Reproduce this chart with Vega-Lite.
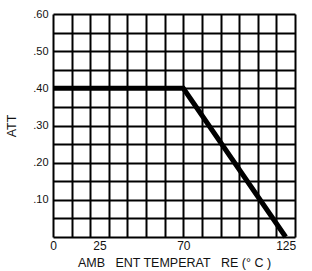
{
  "$schema": "https://vega.github.io/schema/vega-lite/v6.json",
  "width": 242,
  "height": 223,
  "autosize": "none",
  "padding": {"left": 53, "top": 14, "right": 17, "bottom": 34},
  "background": "white",
  "config": {
    "view": {"stroke": null},
    "axis": {"labelFont": "Liberation Sans", "titleFont": "Liberation Sans", "labelColor": "#111", "titleColor": "#111", "labelFontSize": 11, "titleFontSize": 12.5, "titleFontWeight": "normal"}
  },
  "data": {"values": [
    {"temp": 0, "att": 0.40},
    {"temp": 70, "att": 0.40},
    {"temp": 125, "att": 0.0}
  ]},
  "layer": [
    {
      "mark": {"type": "line", "opacity": 0},
      "encoding": {
        "x": {"field": "temp", "type": "quantitative", "scale": {"domain": [0, 130], "nice": false},
          "axis": {"orient": "bottom", "values": [0,10,20,30,40,50,60,70,80,90,100,110,120,130], "grid": true, "gridColor": "black", "gridWidth": 2, "gridOpacity": 1, "labels": false, "ticks": false, "domain": false, "title": null}},
        "y": {"field": "att", "type": "quantitative", "scale": {"domain": [0, 0.6], "nice": false},
          "axis": {"orient": "left", "values": [0,0.05,0.1,0.15,0.2,0.25,0.3,0.35,0.4,0.45,0.5,0.55,0.6], "grid": true, "gridColor": "black", "gridWidth": 2, "gridOpacity": 1, "labels": false, "ticks": false, "domain": false, "title": null}}
      }
    },
    {
      "mark": {"type": "line", "color": "black", "strokeWidth": 5, "strokeCap": "butt", "strokeJoin": "miter"},
      "encoding": {
        "x": {"field": "temp", "type": "quantitative", "scale": {"domain": [0, 130], "nice": false},
          "axis": {"orient": "bottom", "values": [0, 25, 70, 125], "grid": false, "ticks": false, "domain": false, "labelFlush": false, "labelFontSize": 12, "labelPadding": 3, "title": "AMB\u00a0\u00a0\u00a0ENT TEMPERAT\u00a0\u00a0\u00a0RE (°\u00a0C\u00a0)", "titlePadding": 5}},
        "y": {"field": "att", "type": "quantitative", "scale": {"domain": [0, 0.6], "nice": false},
          "axis": {"orient": "left", "values": [0.1, 0.2, 0.3, 0.4, 0.5, 0.6], "labelExpr": "substring(format(datum.value, '.2f'), 1)", "grid": false, "ticks": false, "domain": false, "labelPadding": 5, "title": "ATT", "titlePadding": 14}}
      }
    }
  ],
  "resolve": {"axis": {"x": "independent", "y": "independent"}}
}
